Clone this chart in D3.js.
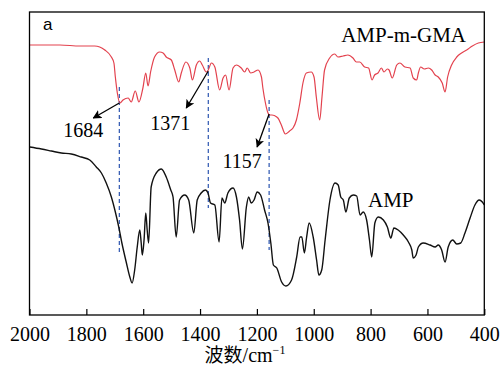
<!DOCTYPE html>
<html>
<head>
<meta charset="utf-8">
<script src="https://cdn.jsdelivr.net/npm/d3@7"></script>
<style>
  body { margin: 0; background: #fff; }
</style>
</head>
<body>
<div id="chart"></div>
<script>
// wavenumber (cm-1) and transmittance (a.u.)
const gmaWave = [1999,1960,1893,1822,1771,1735,1712,1703,1698,1691,1682,1671,1653,1642,1628,1615,1601,1591,1583,1574,1560,1542,1530,1519,1501,1489,1475,1466,1450,1436,1427,1413,1401,1392,1378,1372,1360,1348,1331,1319,1310,1298,1284,1272,1255,1243,1234,1222,1210,1196,1184,1179,1170,1161,1156,1147,1130,1126,1114,1100,1085,1073,1061,1049,1038,1026,1009,999,991,979,971,962,944,926,915,897,880,862,850,838,821,807,795,786,774,762,753,741,735,724,708,697,679,661,650,638,632,624,611,597,585,573,562,548,538,529,515,497,480,462,442,421,400]
const gmaValue = [270,270,270,269,269,265,258,252,238,222,212,215,217,213,224,213,227,242,229,243,258,263,262,258,255,245,233,242,253,247,235,250,254,250,243,244.5,252,248,225,237,240,225,247,250,247,243,247,242,243,245,238,227,212,202,200,200,198,197,190,181,184,187,195,212,232,242,243,238,218,195,218,245,257,261,258,259,260,257,253,253,248,247,235,240,242,247,243,246,245,237,250,252,248,247,237,235,242,248,246,247,245,240,238,232,223,238,250,258,262,265,269,272,273]

const ampWave = [1999,1958,1923,1888,1853,1818,1788,1765,1747,1730,1712,1698,1686,1675,1659,1647,1639,1630,1621,1612,1607,1603,1597,1591,1586,1581,1572,1554,1536,1519,1503,1495,1484,1472,1454,1440,1422,1410,1396,1381,1372,1363,1348,1333,1323,1313,1302,1284,1272,1261,1251,1237,1229,1220,1210,1199,1187,1173,1161,1151,1142,1130,1113,1098,1078,1060,1048,1042,1033,1025,1016,1002,990,982,972,960,943,925,914,905,896,887,875,861,849,837,826,814,804,796,785,773,755,741,729,718,703,685,667,655,650,640,632,615,591,573,562,550,538,527,511,497,483,468,450,433,418,407,400]
const ampValue = [168,166,164,162,161,158,155,148,142,132,118,103,88,72,52,38,32,45,68,85,72,60,75,102,85,72,128,142,146,138,125,118,78,115,120,115,82,115,122,125,122,112,110,73,117,112,122,127,118,95,66,108,118,112,115,123,120,105,92,72,50,47,33,29,35,58,78,78,62,78,92,78,55,40,45,75,115,132,130,118,115,103,117,120,119,100,103,95,75,58,92,98,95,88,77,87,85,80,73,65,57,60,68,72,70,68,70,65,53,68,75,71,72,82,97,110,115,113,110]

const seriesNames = ["AMP-m-GMA", "AMP"]
const xTicks = [2000,1800,1600,1400,1200,1000,800,600,400]

// marked bands: wavenumber, dashed line from/to (a.u.)
const peakWave = [1684, 1371, 1157]
const peakLabel = ["1684", "1371", "1157"]
const peakFrom = [228, 257, 215]
const peakTo = [63, 107, 65]
const peakOnCurve = [212, 244, 201]

const width = 503, height = 367
const margin = {top:12, left:29.5, right:18.7, bottom:52}

const svg = d3.select("#chart").append("svg")
    .attr("width", width)
    .attr("height", height)

const x = d3.scaleLinear().domain([2000, 400]).range([margin.left, width - margin.right])
const y = d3.scaleLinear().domain([0, 303]).range([height - margin.bottom, margin.top])

const serif = "Liberation Serif, Times New Roman, serif"

svg.append("defs").append("marker")
    .attr("id", "head")
    .attr("viewBox", "0 0 10 10")
    .attr("refX", 9).attr("refY", 5)
    .attr("markerWidth", 9).attr("markerHeight", 9)
    .attr("markerUnits", "userSpaceOnUse")
    .attr("orient", "auto")
  .append("path")
    .attr("d", "M0,0 L10,5 L0,10 L2.5,5 Z")
    .attr("fill", "#000")

// dashed guide lines
svg.append("g").selectAll("line")
    .data(peakWave)
    .join("line")
    .attr("x1", d => x(d)).attr("x2", d => x(d))
    .attr("y1", (d, i) => y(peakFrom[i]))
    .attr("y2", (d, i) => y(peakTo[i]))
    .attr("stroke", "#2c55b0")
    .attr("stroke-width", 1.2)
    .attr("stroke-dasharray", "4,3")

let line = d3.line()
    .x(d => x(d[0]))
    .y(d => y(d[1]))
    .curve(d3.curveMonotoneX)

svg.append("path")
    .datum(d3.zip(gmaWave, gmaValue))
    .attr("d", line)
    .attr("fill", "none")
    .attr("stroke", "#e3424e")
    .attr("stroke-width", 1.2)
    .attr("stroke-linejoin", "round")

svg.append("path")
    .datum(d3.zip(ampWave, ampValue))
    .attr("d", line)
    .attr("fill", "none")
    .attr("stroke", "#111")
    .attr("stroke-width", 1.4)
    .attr("stroke-linejoin", "round")

// arrows and labels (pixel offsets from the marked point)
const arrowDx = [-26, -22, -12]
const arrowDy = [15, 37, 33]
const labelDx = [-36, -38, -27]
const labelDy = [34, 59, 54]

svg.append("g").selectAll("line")
    .data(peakWave)
    .join("line")
    .attr("x1", d => x(d))
    .attr("y1", (d, i) => y(peakOnCurve[i]))
    .attr("x2", (d, i) => x(d) + arrowDx[i])
    .attr("y2", (d, i) => y(peakOnCurve[i]) + arrowDy[i])
    .attr("stroke", "#000")
    .attr("stroke-width", 1.3)
    .attr("marker-end", "url(#head)")

svg.append("g").selectAll("text")
    .data(peakWave)
    .join("text")
    .attr("x", (d, i) => x(d) + labelDx[i])
    .attr("y", (d, i) => y(peakOnCurve[i]) + labelDy[i])
    .attr("text-anchor", "middle")
    .attr("font-family", serif)
    .attr("font-size", "20px")
    .text((d, i) => peakLabel[i])

// series names
svg.append("text")
    .attr("x", 466).attr("y", 42)
    .attr("text-anchor", "end")
    .attr("font-family", serif)
    .attr("font-size", "21px")
    .text(seriesNames[0])

svg.append("text")
    .attr("x", 368).attr("y", 207)
    .attr("font-family", serif)
    .attr("font-size", "21px")
    .text(seriesNames[1])

svg.append("text")
    .attr("x", 43).attr("y", 30)
    .attr("font-family", "Liberation Sans, Arial, sans-serif")
    .attr("font-size", "17px")
    .text("a")

// frame and axis
svg.append("rect")
    .attr("x", margin.left).attr("y", margin.top)
    .attr("width", width - margin.left - margin.right)
    .attr("height", height - margin.top - margin.bottom)
    .attr("fill", "none")
    .attr("stroke", "#000")
    .attr("stroke-width", 1.3)

let xAxis = d3.axisBottom(x).tickValues(xTicks).tickSizeInner(-6).tickSizeOuter(0).tickFormat(d3.format("d"))
let xAxisG = svg.append("g")
    .attr("transform", `translate(0,${height - margin.bottom})`)
    .call(xAxis)
xAxisG.select(".domain").remove()
xAxisG.selectAll("line").attr("stroke-width", 1.2)
xAxisG.selectAll("text")
    .attr("y", 26).attr("dy", null)
    .attr("font-family", serif)
    .attr("font-size", "20px")
    .attr("fill", "#000")

let title = svg.append("text")
    .attr("x", 245).attr("y", 362)
    .attr("text-anchor", "middle")
    .attr("font-size", "19px")
title.append("tspan").attr("font-family", "Noto Sans CJK SC").text("波数")
title.append("tspan").attr("font-family", serif).attr("font-size", "20px").text("/cm")
title.append("tspan").attr("font-family", serif).attr("font-size", "12px").attr("dy", -8).text("−1")
</script>
</body>
</html>
